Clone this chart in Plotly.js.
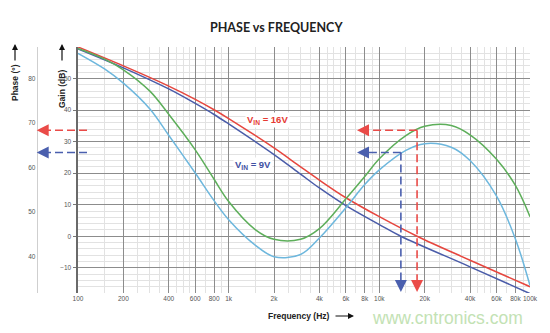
<!DOCTYPE html>
<html>
<head>
<meta charset="utf-8">
<script src="https://cdn.plot.ly/plotly-3.0.1.min.js"></script>
<style>html,body{margin:0;padding:0;background:#fff;}#chart{width:550px;height:333px;}</style>
</head>
<body>
<div id="chart"></div>
<script>
// ---------------- DATA ----------------
// Gain (dB) vs frequency (Hz)
const gain16Freq = [100, 200, 400, 600, 800, 1000, 2000, 3000, 4000, 6000, 10000, 17800, 40000, 100000];
const gain16 =     [60, 54.0, 47.6, 43.4, 40.1, 37.3, 28.0, 22.0, 17.8, 12.2, 6.2, 0, -7.6, -16.0];
const gain9Freq =  [100, 200, 400, 600, 800, 1000, 2000, 3000, 4000, 6000, 10000, 13900, 40000, 100000];
const gain9 =      [59.4, 53.4, 46.7, 42.1, 38.6, 35.6, 25.9, 19.7, 15.3, 9.7, 3.7, 0, -9.7, -18.2];
// Phase (deg) vs frequency (Hz)
const phaseFreq = [100, 150, 200, 300, 400, 600, 800, 1000, 1500, 2000, 3000, 4000, 6000, 8000, 10000, 15000, 20000, 30000, 40000, 60000, 80000, 100000];
const phase16 =   [86.8, 84.4, 82.0, 77.2, 72.0, 64.0, 57.4, 52.4, 46.1, 43.9, 43.9, 46.3, 53.0, 58.0, 62.0, 67.2, 69.3, 69.5, 67.4, 61.9, 56.0, 49.0];
const phase9 =    [85.7, 82.2, 79.0, 73.2, 67.3, 58.8, 52.6, 48.3, 42.6, 40.0, 40.5, 44.2, 51.0, 56.2, 59.5, 63.9, 65.4, 64.6, 61.6, 53.6, 44.0, 33.5];
// Crossover (0 dB) frequency and phase margin: [16V, 9V]
const crossFreq = [17800, 13900];
const phaseMargin = [68.4, 63.4];
// Tick labels
const xTickVals = [100, 200, 400, 600, 800, 1000, 2000, 4000, 6000, 8000, 10000, 20000, 40000, 60000, 80000, 100000];
const xTickText = ['100', '200', '400', '600', '800', '1k', '2k', '4k', '6k', '8k', '10k', '20k', '40k', '60k', '80k', '100k'];
const gainTickVals = [-10, 0, 10, 20, 30, 40, 50];
const phaseTickVals = [40, 50, 60, 70, 80];
const minorMantissa = [1.5, 2.5, 3, 3.5, 4.5, 5, 5.5, 7, 9];

// ---------------- LAYOUT HELPERS ----------------
const W = 550, H = 333, ML = 20, MR = 20, MT = 47, MB = 40;
const PW = W - ML - MR, PH = H - MT - MB;
const gainAxisPx = 78, phaseAxisPx = 36.7;
const xDom0 = (gainAxisPx - ML) / PW;
const xRangeLog = [2, 5];
const gainRange = [-18, 60];
const phaseRange = [31.84, 87.12];
const px2x = px => (px - ML) / PW;
const py2y = py => (H - MB - py) / PH;
const f2x = f => xDom0 + (Math.log10(f) - xRangeLog[0]) / (xRangeLog[1] - xRangeLog[0]) * (1 - xDom0);

const minorVals = [];
[100, 1000, 10000].forEach(d => minorMantissa.forEach(m => minorVals.push(m * d)));

const RED = '#e6463e', BLUE = '#4a5ca9', GREEN = '#5dae5a', CYAN = '#6db7dd';
const DRED = '#ea4b48', DBLUE = '#4a5fae';
const spl = {shape: 'spline', smoothing: 1};

const traces = [
  {x: phaseFreq, y: phase16, yaxis: 'y2', mode: 'lines', line: Object.assign({color: GREEN, width: 1.5}, spl), hoverinfo: 'skip'},
  {x: phaseFreq, y: phase9, yaxis: 'y2', mode: 'lines', line: Object.assign({color: CYAN, width: 1.5}, spl), hoverinfo: 'skip'},
  {x: gain9Freq, y: gain9, mode: 'lines', line: Object.assign({color: BLUE, width: 1.5}, spl), hoverinfo: 'skip'},
  {x: gain16Freq, y: gain16, mode: 'lines', line: Object.assign({color: RED, width: 1.5}, spl), hoverinfo: 'skip'}
];

const shapes = [];
const annotations = [];
const dcol = [DRED, DBLUE];
const arrowTipPxRight = 357;
for (let i = 0; i < crossFreq.length; i++) {
  const xc = f2x(crossFreq[i]);
  const pm = phaseMargin[i];
  const ln = {color: dcol[i], width: 1.6, dash: '8px,4px'};
  shapes.push({type: 'line', xref: 'paper', yref: 'y2', x0: xc, x1: px2x(arrowTipPxRight + 4), y0: pm, y1: pm, line: ln});
  shapes.push({type: 'line', xref: 'paper', yref: 'y2', x0: xc, x1: xc, y0: pm, y1: phaseRange[0] + 1.2, line: ln});
  shapes.push({type: 'line', xref: 'paper', yref: 'y2', x0: px2x(87), x1: px2x(phaseAxisPx + 4), y0: pm, y1: pm, line: ln});
  const head = {text: '', showarrow: true, arrowhead: 2, arrowsize: 1.5, arrowwidth: 1.6, arrowcolor: dcol[i], standoff: 0};
  annotations.push(Object.assign({}, head, {xref: 'paper', yref: 'y2', x: px2x(arrowTipPxRight), y: pm, ax: 9, ay: 0}));
  annotations.push(Object.assign({}, head, {xref: 'paper', yref: 'y2', x: px2x(phaseAxisPx), y: pm, ax: 9, ay: 0}));
  annotations.push(Object.assign({}, head, {xref: 'paper', yref: 'paper', x: xc, y: py2y(292), ax: 0, ay: -9}));
}

const tfont = {family: 'Liberation Sans, Arial, sans-serif', size: 8.5, color: '#222'};
annotations.push(
  {xref: 'paper', yref: 'paper', x: px2x(276), y: py2y(27), text: '<b>PHASE vs FREQUENCY</b>', showarrow: false,
   font: {family: 'Lato, Open Sans, sans-serif', size: 12.5, color: '#222'}, xanchor: 'center', yanchor: 'middle'},
  {xref: 'paper', yref: 'paper', x: px2x(15), y: py2y(83), text: '<b>Phase (°)</b>', textangle: -90, showarrow: false, font: tfont, xanchor: 'center', yanchor: 'middle'},
  {xref: 'paper', yref: 'paper', x: px2x(15), y: py2y(44), text: '', showarrow: true, ax: 0, ay: 18, arrowhead: 2, arrowsize: 1, arrowwidth: 1.2, arrowcolor: '#111', standoff: 0},
  {xref: 'paper', yref: 'paper', x: px2x(62), y: py2y(89), text: '<b>Gain (dB)</b>', textangle: -90, showarrow: false, font: tfont, xanchor: 'center', yanchor: 'middle'},
  {xref: 'paper', yref: 'paper', x: px2x(62), y: py2y(44), text: '', showarrow: true, ax: 0, ay: 18, arrowhead: 2, arrowsize: 1, arrowwidth: 1.2, arrowcolor: '#111', standoff: 0},
  {xref: 'paper', yref: 'paper', x: px2x(299), y: py2y(316), text: '<b>Frequency (Hz)</b>', showarrow: false, font: tfont, xanchor: 'center', yanchor: 'middle'},
  {xref: 'paper', yref: 'paper', x: px2x(354), y: py2y(316), text: '', showarrow: true, ax: -20, ay: 0, arrowhead: 2, arrowsize: 1, arrowwidth: 1.2, arrowcolor: '#111', standoff: 0},
  {xref: 'paper', yref: 'paper', x: px2x(267.5), y: py2y(120), text: '<b>V<sub>IN</sub> = 16V</b>', showarrow: false,
   font: {family: 'Liberation Sans, Arial, sans-serif', size: 9.5, color: '#e53a33'}, bgcolor: '#fff', borderpad: 1, xanchor: 'center', yanchor: 'middle'},
  {xref: 'paper', yref: 'paper', x: px2x(252.5), y: py2y(165), text: '<b>V<sub>IN</sub> = 9V</b>', showarrow: false,
   font: {family: 'Liberation Sans, Arial, sans-serif', size: 9.5, color: '#3f51a3'}, bgcolor: '#fff', borderpad: 1, xanchor: 'center', yanchor: 'middle'},
  {xref: 'paper', yref: 'paper', x: px2x(447.5), y: py2y(318), text: 'www.cntronics.com', showarrow: false,
   font: {family: 'Liberation Sans, Arial, sans-serif', size: 17.5, color: '#c3e2b4'}, xanchor: 'center', yanchor: 'middle'}
);

const tickFont = {family: 'Liberation Sans, Arial, sans-serif', size: 6.5, color: '#555'};
const layout = {
  width: W, height: H,
  margin: {l: ML, r: MR, t: MT, b: MB, pad: 0},
  paper_bgcolor: '#fff', plot_bgcolor: '#fff',
  showlegend: false,
  xaxis: {
    type: 'log', range: xRangeLog, domain: [xDom0, 1],
    tickmode: 'array', tickvals: xTickVals, ticktext: xTickText, tickfont: tickFont, tickangle: 0,
    showgrid: true, gridcolor: '#8c8c8c', gridwidth: 1, ticks: '', zeroline: false, showline: false,
    minor: {tickmode: 'array', tickvals: minorVals, showgrid: true, gridcolor: '#e2e2e2', gridwidth: 1, ticks: ''}
  },
  yaxis: {
    range: gainRange, tickmode: 'array', tickvals: gainTickVals, tickfont: tickFont,
    showgrid: true, gridcolor: '#8c8c8c', gridwidth: 1, zeroline: false,
    showline: true, linecolor: '#6a6a6a', linewidth: 2.5, ticks: 'outside', ticklen: 3, tickcolor: '#777',
    minor: {dtick: 2, tick0: 0, showgrid: true, gridcolor: '#e2e2e2', gridwidth: 1, ticks: ''}
  },
  yaxis2: {
    range: phaseRange, overlaying: 'y', anchor: 'free', side: 'left', position: px2x(phaseAxisPx),
    tickmode: 'array', tickvals: phaseTickVals, tickfont: tickFont,
    showgrid: false, zeroline: false, showline: true, linecolor: '#cfcfcf', linewidth: 1, ticks: ''
  },
  shapes: shapes,
  annotations: annotations
};

Plotly.newPlot('chart', traces, layout, {staticPlot: true, displayModeBar: false});
</script>
</body>
</html>
